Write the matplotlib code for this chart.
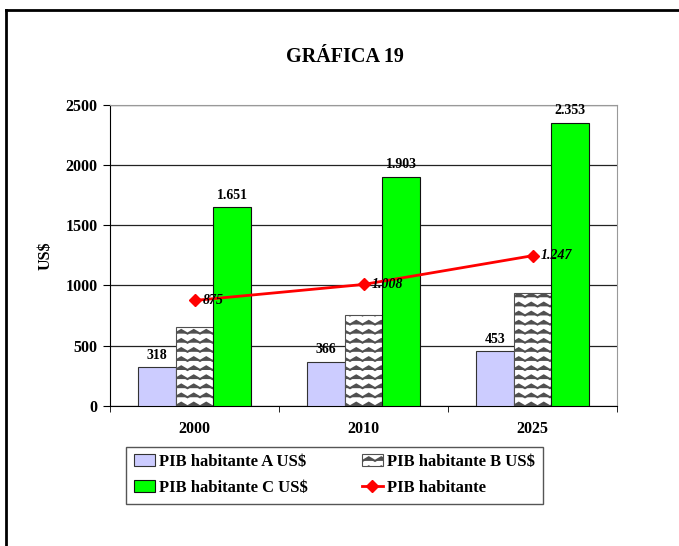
import matplotlib
matplotlib.use("Agg")
import matplotlib.pyplot as plt
import matplotlib.hatch as mhatch
from matplotlib.lines import Line2D
import numpy as np

# ---- data ----
categories = ["2000", "2010", "2025"]
pib_a = [318, 366, 453]
pib_b = [657, 754, 935]
pib_c = [1651, 1903, 2353]
pib_line = [875, 1008, 1247]
yticks = [0, 500, 1000, 1500, 2000, 2500]
series_names = ["PIB habitante A US$", "PIB habitante B US$",
                "PIB habitante C US$", "PIB habitante"]
title = "GRÁFICA 19"
ylabel = "US$"


# ---- custom zigzag hatch (replaces '|') ----
class ZigZagHatch(mhatch.HatchPatternBase):
    def __init__(self, hatch, density):
        n = hatch.count('|')
        self.rows = 11 * n
        self.periods = 8 * n
        self.num_vertices = self.rows * (2 * self.periods + 1) if n else 0

    def set_vertices_and_codes(self, vertices, codes):
        from matplotlib.path import Path
        idx = 0
        amp = 0.2 / self.rows
        for i in range(self.rows):
            y0 = (i + 0.5) / self.rows
            for k in range(2 * self.periods + 1):
                xx = k / (2 * self.periods)
                yy = y0 + (amp if k % 2 == 1 else -amp)
                vertices[idx] = (xx, yy)
                codes[idx] = Path.MOVETO if k == 0 else Path.LINETO
                idx += 1


mhatch._hatch_types = [h for h in mhatch._hatch_types
                       if h is not mhatch.VerticalHatch] + [ZigZagHatch]

plt.rcParams['font.family'] = ['Liberation Serif', 'DejaVu Serif']
plt.rcParams['font.weight'] = 'bold'
plt.rcParams['hatch.linewidth'] = 1.5

W, H = 679, 546
fig = plt.figure(figsize=(W / 100, H / 100), dpi=100)
ax = fig.add_axes([110 / W, 1 - 405.7 / H, 507 / W, 300.7 / H])

x = np.arange(len(categories))
bw = 0.222

def fmt(v):
    return f"{v:,}".replace(",", ".")

ba = ax.bar(x - bw, pib_a, bw, color="#ccccff", edgecolor="#333333", linewidth=0.8,
            label=series_names[0], zorder=3)
bb = ax.bar(x, pib_b, bw, color="white", edgecolor="#505050", hatch="|", linewidth=0.8,
            label=series_names[1], zorder=3)
bc = ax.bar(x + bw, pib_c, bw, color="#00ff00", edgecolor="#111111", linewidth=0.8,
            label=series_names[2], zorder=3)
ln, = ax.plot(x, pib_line, color="#ff0000", lw=2, marker="D", ms=6.5,
              label=series_names[3], zorder=5)

for xi, v in zip(x - bw, pib_a):
    ax.annotate(fmt(v), (xi, v), xytext=(0, 4), textcoords="offset points",
                ha="center", va="bottom", fontsize=10, fontweight="bold", zorder=6)
for xi, v in zip(x + bw, pib_c):
    ax.annotate(fmt(v), (xi, v), xytext=(0, 4), textcoords="offset points",
                ha="center", va="bottom", fontsize=10, fontweight="bold", zorder=6)
for xi, v in zip(x, pib_line):
    ax.annotate(fmt(v), (xi, v), xytext=(6, 0), textcoords="offset points",
                ha="left", va="center", fontsize=10, fontweight="bold",
                fontstyle="italic", zorder=6)

ax.set_xlim(-0.5, len(categories) - 0.5)
ax.set_ylim(yticks[0], yticks[-1])
ax.set_yticks(yticks)
ax.set_yticklabels([str(t) for t in yticks], fontsize=11.5, fontweight="bold")
ax.set_xticks(x)
ax.set_xticklabels(categories, fontsize=11.5, fontweight="bold")
ax.tick_params(axis="x", length=0, pad=11)
ax.set_xticks(np.arange(-0.5, len(categories), 1.0), minor=True)
ax.tick_params(axis="x", which="minor", length=4, direction="out", color="black")
ax.tick_params(axis="y", length=5, direction="out", color="black", pad=4)
ax.yaxis.grid(True, color="#222222", lw=0.9, zorder=0)
ax.set_axisbelow(True)
for s in ["top", "right"]:
    ax.spines[s].set_color("#999999")
for s in ["left", "bottom"]:
    ax.spines[s].set_color("black")
ax.set_ylabel(ylabel, fontsize=11.5, fontweight="bold")
ax.yaxis.set_label_coords((54 - 110) / 507, 0.5)

fig.text(345 / W, 1 - 57 / H, title, ha="center", va="center",
         fontsize=14.5, fontweight="bold")

leg = fig.legend([ba, bc, bb, ln],
                 [series_names[0], series_names[2], series_names[1], series_names[3]],
                 ncol=2, loc="center",
                 bbox_to_anchor=(334.5 / W, 1 - 475 / H),
                 borderaxespad=0, borderpad=0.45, labelspacing=0.6,
                 fancybox=False, framealpha=1,
                 edgecolor="#555555", handlelength=1.3,
                 handletextpad=0.25, columnspacing=3.2,
                 prop={"weight": "bold", "size": 12})
leg.get_frame().set_linewidth(1.0)

# figure frame (left and top edges)
fig.add_artist(Line2D([6 / W, 6 / W], [0, 1 - 10 / H], transform=fig.transFigure,
                      color="black", lw=2))
fig.add_artist(Line2D([6 / W, 1], [1 - 10 / H, 1 - 10 / H], transform=fig.transFigure,
                      color="black", lw=2))

fig.savefig("out.png", dpi=100)
